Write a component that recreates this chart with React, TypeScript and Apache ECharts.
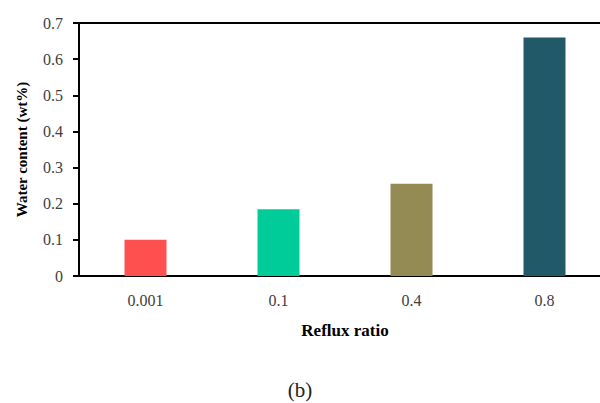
import React, { useEffect, useRef } from "react";
import * as echarts from "echarts";

const categories = ["0.001", "0.1", "0.4", "0.8"];
const waterContent = [0.1, 0.185, 0.255, 0.66];
const barColors = ["#FF5050", "#00CC99", "#948A54", "#215968"];
const yTicks = { min: 0, max: 0.7, interval: 0.1 };

const FONT = "Liberation Serif";

export default function App() {
  const ref = useRef<HTMLDivElement>(null);
  useEffect(() => {
    if (!ref.current) return;
    const chart = echarts.init(ref.current, null, { renderer: "svg" });
    chart.setOption({
      animation: false,
      backgroundColor: "#fff",
      grid: {
        left: 79,
        top: 23,
        width: 532,
        height: 253,
        show: true,
        borderColor: "#000",
        borderWidth: 2,
        outerBoundsMode: "none",
      },
      xAxis: {
        type: "category",
        data: categories,
        name: "Reflux ratio",
        nameLocation: "middle",
        nameGap: 46,
        nameTextStyle: { fontFamily: FONT, fontSize: 17, fontWeight: "bold", color: "#000" },
        axisLine: { lineStyle: { color: "#000", width: 2 } },
        axisTick: { show: false },
        axisLabel: { fontFamily: FONT, fontSize: 16, color: "#404040", margin: 16 },
      },
      yAxis: {
        type: "value",
        min: yTicks.min,
        max: yTicks.max,
        interval: yTicks.interval,
        name: "Water content (wt%)",
        nameLocation: "middle",
        nameGap: 50,
        nameTextStyle: { fontFamily: FONT, fontSize: 15, fontWeight: "bold", color: "#000" },
        axisLine: { show: true, lineStyle: { color: "#000", width: 2 } },
        axisTick: { show: true, length: 6, lineStyle: { color: "#000", width: 2 } },
        splitLine: { show: false },
        axisLabel: {
          fontFamily: FONT,
          fontSize: 16,
          color: "#404040",
          margin: 16,
          formatter: (v: number) => (v === 0 ? "0" : String(Math.round(v * 10) / 10)),
        },
      },
      series: [
        {
          type: "bar",
          data: waterContent.map((v, i) => ({ value: v, itemStyle: { color: barColors[i] } })),
          barWidth: 42,
        },
      ],
      graphic: [
        {
          type: "text",
          x: 300,
          y: 390,
          style: {
            text: "(b)",
            fontFamily: FONT,
            fontSize: 21,
            fill: "#222",
            align: "center",
            verticalAlign: "middle",
          },
        },
      ],
    });
    return () => chart.dispose();
  }, []);
  return (
    <div
      style={{
        position: "fixed",
        left: 0,
        top: 0,
        width: 600,
        height: 403,
        overflow: "hidden",
      }}
    >
      <div ref={ref} style={{ width: 630, height: 403 }} />
    </div>
  );
}
